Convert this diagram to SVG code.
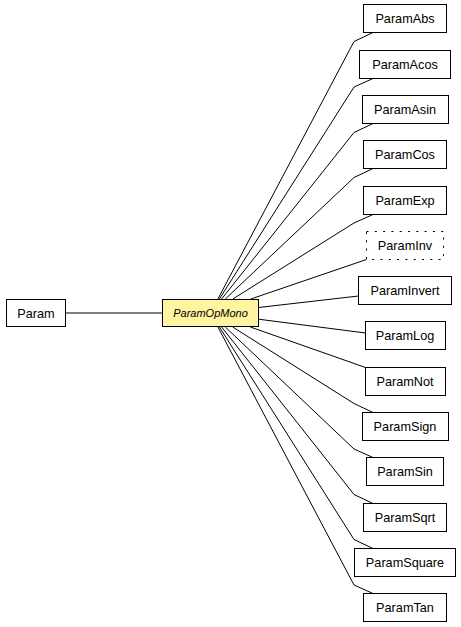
<svg xmlns="http://www.w3.org/2000/svg" width="461" height="627" viewBox="0 0 461 627">
<style>
.n rect{fill:#fff;stroke:#000;stroke-width:1}
.n text{font-family:"Liberation Sans",Arial,sans-serif;font-size:12.7px;text-anchor:middle;fill:#000}
#ParamOpMono rect{fill:#fff4a0}
#ParamOpMono text{font-style:italic;font-size:11px}
#ParamInv rect{stroke-dasharray:2 6.3}
.e path{fill:none;stroke:#000;stroke-width:1}
</style>
<rect width="461" height="627" fill="#fff"/>
<g class="e" id="connectors">
<path d="M65.5,313H162.5"/>
<path d="M217.9,299L354,41.5L373,32.5"/>
<path d="M219.4,299L354,87L373,78.5"/>
<path d="M221.6,299L354,132.5L373,123.5"/>
<path d="M225.3,299L354,177.5L373,168.5"/>
<path d="M232.8,299L354,223L373,214.5"/>
<path d="M250.8,299L366.5,259.5"/>
<path d="M258.5,307.5L358.5,296"/>
<path d="M258.5,319.2L365.5,333"/>
<path d="M250.3,327L365.5,367.5"/>
<path d="M232.7,327L354,403.5L373,412.5"/>
<path d="M225.3,327L354,449L373,457.5"/>
<path d="M221.6,327L354,494.5L373,503.5"/>
<path d="M219.4,327L354,539.5L373,548.5"/>
<path d="M217.9,327L354,585L373,593.5"/>
</g>
<g class="n" id="Param"><rect x="6.5" y="299.5" width="59" height="27"/><text x="36" y="317.5">Param</text></g>
<g class="n" id="ParamOpMono"><rect x="162.5" y="299.5" width="96" height="27"/><text x="210.5" y="317">ParamOpMono</text></g>
<g class="n" id="ParamAbs"><rect x="363.5" y="4.5" width="83" height="28"/><text x="405" y="23">ParamAbs</text></g>
<g class="n" id="ParamAcos"><rect x="359.5" y="50.5" width="91" height="28"/><text x="405" y="69">ParamAcos</text></g>
<g class="n" id="ParamAsin"><rect x="362.5" y="95.5" width="86" height="28"/><text x="405" y="114">ParamAsin</text></g>
<g class="n" id="ParamCos"><rect x="363.5" y="140.5" width="83" height="28"/><text x="405" y="159">ParamCos</text></g>
<g class="n" id="ParamExp"><rect x="363.5" y="186.5" width="83" height="28"/><text x="405" y="205">ParamExp</text></g>
<g class="n" id="ParamInv"><rect x="366.5" y="231.5" width="77" height="28"/><text x="405" y="250">ParamInv</text></g>
<g class="n" id="ParamInvert"><rect x="358.5" y="276.5" width="93" height="28"/><text x="405" y="295">ParamInvert</text></g>
<g class="n" id="ParamLog"><rect x="365.5" y="321.5" width="80" height="28"/><text x="405" y="340">ParamLog</text></g>
<g class="n" id="ParamNot"><rect x="365.5" y="367.5" width="80" height="28"/><text x="405" y="386">ParamNot</text></g>
<g class="n" id="ParamSign"><rect x="362.5" y="412.5" width="86" height="28"/><text x="405" y="431">ParamSign</text></g>
<g class="n" id="ParamSin"><rect x="366.5" y="457.5" width="77" height="28"/><text x="405" y="476">ParamSin</text></g>
<g class="n" id="ParamSqrt"><rect x="363.5" y="503.5" width="83" height="28"/><text x="405" y="522">ParamSqrt</text></g>
<g class="n" id="ParamSquare"><rect x="354.5" y="548.5" width="101" height="28"/><text x="405" y="567">ParamSquare</text></g>
<g class="n" id="ParamTan"><rect x="363.5" y="593.5" width="83" height="28"/><text x="405" y="612">ParamTan</text></g>
</svg>
